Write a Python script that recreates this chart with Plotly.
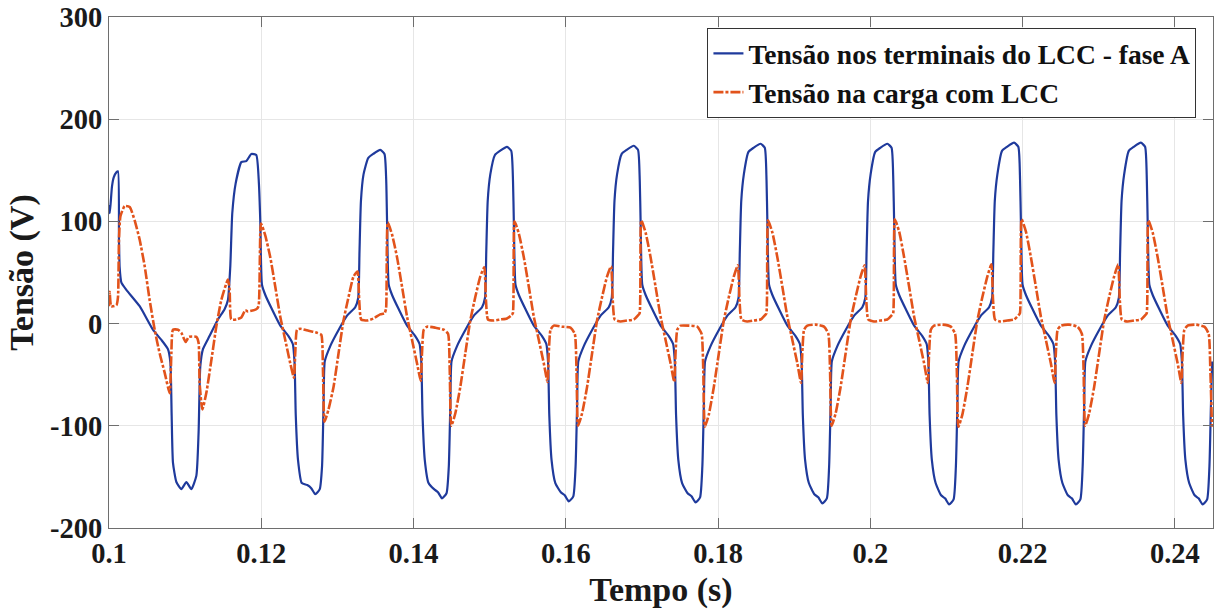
import plotly.graph_objects as go

# ---------------- data ----------------
# Series 1: Tensão nos terminais do LCC - fase A  (time in s, voltage in V)
lcc_time = [
    0.10000, 0.10009, 0.10022, 0.10039, 0.10062, 0.10097, 0.10118, 0.10131, 0.10140, 0.10163,
    0.10228, 0.10403, 0.10577, 0.10688, 0.10774, 0.10806, 0.10823, 0.10840, 0.10885, 0.10950,
    0.11016, 0.11081, 0.11147, 0.11177, 0.11199, 0.11234, 0.11322, 0.11430, 0.11518, 0.11562,
    0.11593, 0.11619, 0.11663, 0.11738, 0.11803, 0.11869, 0.11934, 0.11969,
    # cycle 0
    0.11987, 0.12009, 0.12053, 0.12141, 0.12250, 0.12355, 0.12414, 0.12437, 0.12453, 0.12482,
    0.12532, 0.12604, 0.12656, 0.12709, 0.12768, 0.12798, 0.12818, 0.12834, 0.12906, 0.13017,
    0.13129, 0.13234, 0.13273, 0.13290, 0.13309, 0.13343, 0.13404, 0.13470, 0.13562, 0.13618, 0.13641,
    # cycle 1
    0.13652, 0.13674, 0.13718, 0.13806, 0.13915, 0.14020, 0.14079, 0.14102, 0.14118, 0.14147,
    0.14197, 0.14269, 0.14321, 0.14374, 0.14433, 0.14463, 0.14483, 0.14499, 0.14571, 0.14682,
    0.14794, 0.14899, 0.14938, 0.14955, 0.14974, 0.15008, 0.15069, 0.15135, 0.15227, 0.15283, 0.15306,
    # cycle 2
    0.15317, 0.15339, 0.15383, 0.15471, 0.15580, 0.15685, 0.15744, 0.15767, 0.15783, 0.15812,
    0.15862, 0.15934, 0.15986, 0.16039, 0.16098, 0.16128, 0.16148, 0.16164, 0.16236, 0.16347,
    0.16459, 0.16564, 0.16603, 0.16620, 0.16639, 0.16673, 0.16734, 0.16800, 0.16892, 0.16948, 0.16971,
    # cycle 3
    0.16982, 0.17004, 0.17048, 0.17136, 0.17245, 0.17350, 0.17409, 0.17432, 0.17448, 0.17477,
    0.17527, 0.17599, 0.17651, 0.17704, 0.17763, 0.17793, 0.17813, 0.17829, 0.17901, 0.18012,
    0.18124, 0.18229, 0.18268, 0.18285, 0.18304, 0.18338, 0.18399, 0.18465, 0.18557, 0.18613, 0.18636,
    # cycle 4
    0.18647, 0.18669, 0.18713, 0.18801, 0.18910, 0.19015, 0.19074, 0.19097, 0.19113, 0.19142,
    0.19192, 0.19264, 0.19316, 0.19369, 0.19428, 0.19458, 0.19478, 0.19494, 0.19566, 0.19677,
    0.19789, 0.19894, 0.19933, 0.19950, 0.19969, 0.20003, 0.20064, 0.20130, 0.20222, 0.20278, 0.20301,
    # cycle 5
    0.20312, 0.20334, 0.20378, 0.20466, 0.20575, 0.20680, 0.20739, 0.20762, 0.20778, 0.20807,
    0.20857, 0.20929, 0.20981, 0.21034, 0.21093, 0.21123, 0.21143, 0.21159, 0.21231, 0.21342,
    0.21454, 0.21559, 0.21598, 0.21615, 0.21634, 0.21668, 0.21729, 0.21795, 0.21887, 0.21943, 0.21966,
    # cycle 6
    0.21977, 0.21999, 0.22043, 0.22131, 0.22240, 0.22345, 0.22404, 0.22427, 0.22443, 0.22472,
    0.22522, 0.22594, 0.22646, 0.22699, 0.22758, 0.22788, 0.22808, 0.22824, 0.22896, 0.23007,
    0.23119, 0.23224, 0.23263, 0.23280, 0.23299, 0.23333, 0.23394, 0.23460, 0.23552, 0.23608, 0.23631,
    # cycle 7 (partial)
    0.23642, 0.23664, 0.23708, 0.23796, 0.23905, 0.24010, 0.24069, 0.24092, 0.24108, 0.24137,
    0.24187, 0.24259, 0.24311, 0.24364, 0.24423, 0.24453, 0.24473, 0.24489,
]
lcc_volt = [
    116, 108, 118, 134, 143, 148, 149, 82, 55, 40,
    33, 17, -6, -16, -25, -38, -90, -136, -155, -162,
    -155, -162, -149, -106, -42, -25, -12, 4, 14, 23,
    56, 108, 137, 158, 159, 166, 165, 137,
    # cycle 0
    100, 38, 28, 14, -2, -12, -20, -38, -90, -133,
    -156, -158, -161, -167, -162, -140, -80, -37, -22, -6,
    8, 16, 25, 70, 120, 146, 162, 166, 170, 166, 140,
    # cycle 1
    100, 38, 28, 14, -2, -12, -20, -38, -90, -133,
    -156, -162, -165, -171, -166, -140, -80, -37, -22, -6,
    8, 16, 25, 70, 120, 146, 165, 169, 173, 169, 140,
    # cycle 2
    100, 38, 28, 14, -2, -12, -20, -38, -90, -133,
    -156, -165, -168, -174, -169, -140, -80, -37, -22, -6,
    8, 16, 25, 70, 120, 146, 166, 170, 174, 170, 140,
    # cycle 3
    100, 38, 28, 14, -2, -12, -20, -38, -90, -133,
    -156, -166, -169, -175, -170, -140, -80, -37, -22, -6,
    8, 16, 25, 70, 120, 146, 168, 172, 176, 172, 140,
    # cycle 4
    100, 38, 28, 14, -2, -12, -20, -38, -90, -133,
    -156, -167, -170, -176, -171, -140, -80, -37, -22, -6,
    8, 16, 25, 70, 120, 146, 168, 172, 176, 172, 140,
    # cycle 5
    100, 38, 28, 14, -2, -12, -20, -38, -90, -133,
    -156, -168, -171, -177, -172, -140, -80, -37, -22, -6,
    8, 16, 25, 70, 120, 146, 169, 173, 177, 173, 140,
    # cycle 6
    100, 38, 28, 14, -2, -12, -20, -38, -90, -133,
    -156, -168, -171, -177, -172, -140, -80, -37, -22, -6,
    8, 16, 25, 70, 120, 146, 169, 173, 177, 173, 140,
    # cycle 7 (partial)
    100, 38, 28, 14, -2, -12, -20, -38, -90, -133,
    -156, -168, -171, -177, -172, -140, -80, -37,
]

# Series 2: Tensão na carga com LCC
load_time = [
    0.10000, 0.10009, 0.10029, 0.10097, 0.10118, 0.10131, 0.10150, 0.10206, 0.10272, 0.10337,
    0.10403, 0.10469, 0.10534, 0.10600, 0.10665, 0.10731, 0.10797, 0.10819, 0.10840, 0.10906,
    0.10950, 0.11007, 0.11050, 0.11147, 0.11177, 0.11190, 0.11226, 0.11278, 0.11344, 0.11409,
    0.11475, 0.11562, 0.11584, 0.11606, 0.11672, 0.11738, 0.11790, 0.11824, 0.11934, 0.11964,
    # cycle 0
    0.11996, 0.12053, 0.12118, 0.12184, 0.12249, 0.12315, 0.12381, 0.12429, 0.12446, 0.12469,
    0.12512, 0.12621, 0.12731, 0.12788, 0.12810, 0.12831, 0.12883, 0.12949, 0.13015, 0.13080,
    0.13146, 0.13211, 0.13264, 0.13286, 0.13312, 0.13387, 0.13474, 0.13562, 0.13618, 0.13639,
    # cycle 1
    0.13661, 0.13718, 0.13783, 0.13849, 0.13914, 0.13980, 0.14046, 0.14094, 0.14111, 0.14134,
    0.14177, 0.14286, 0.14396, 0.14453, 0.14475, 0.14496, 0.14548, 0.14614, 0.14680, 0.14745,
    0.14811, 0.14876, 0.14929, 0.14951, 0.14977, 0.15052, 0.15139, 0.15227, 0.15283, 0.15304,
    # cycle 2
    0.15326, 0.15383, 0.15448, 0.15514, 0.15579, 0.15645, 0.15711, 0.15759, 0.15776, 0.15799,
    0.15842, 0.15951, 0.16061, 0.16118, 0.16140, 0.16161, 0.16213, 0.16279, 0.16345, 0.16410,
    0.16476, 0.16541, 0.16594, 0.16616, 0.16642, 0.16717, 0.16804, 0.16892, 0.16948, 0.16969,
    # cycle 3
    0.16991, 0.17048, 0.17113, 0.17179, 0.17244, 0.17310, 0.17376, 0.17424, 0.17441, 0.17464,
    0.17507, 0.17616, 0.17726, 0.17783, 0.17805, 0.17826, 0.17878, 0.17944, 0.18010, 0.18075,
    0.18141, 0.18206, 0.18259, 0.18281, 0.18307, 0.18382, 0.18469, 0.18557, 0.18613, 0.18634,
    # cycle 4
    0.18656, 0.18713, 0.18778, 0.18844, 0.18909, 0.18975, 0.19041, 0.19089, 0.19106, 0.19129,
    0.19172, 0.19281, 0.19391, 0.19448, 0.19470, 0.19491, 0.19543, 0.19609, 0.19675, 0.19740,
    0.19806, 0.19871, 0.19924, 0.19946, 0.19972, 0.20047, 0.20134, 0.20222, 0.20278, 0.20299,
    # cycle 5
    0.20321, 0.20378, 0.20443, 0.20509, 0.20574, 0.20640, 0.20706, 0.20754, 0.20771, 0.20794,
    0.20837, 0.20946, 0.21056, 0.21113, 0.21135, 0.21156, 0.21208, 0.21274, 0.21340, 0.21405,
    0.21471, 0.21536, 0.21589, 0.21611, 0.21637, 0.21712, 0.21799, 0.21887, 0.21943, 0.21964,
    # cycle 6
    0.21986, 0.22043, 0.22108, 0.22174, 0.22239, 0.22305, 0.22371, 0.22419, 0.22436, 0.22459,
    0.22502, 0.22611, 0.22721, 0.22778, 0.22800, 0.22821, 0.22873, 0.22939, 0.23005, 0.23070,
    0.23136, 0.23201, 0.23254, 0.23276, 0.23302, 0.23377, 0.23464, 0.23552, 0.23608, 0.23629,
    # cycle 7 (partial)
    0.23651, 0.23708, 0.23773, 0.23839, 0.23904, 0.23970, 0.24036, 0.24084, 0.24101, 0.24124,
    0.24167, 0.24276, 0.24386, 0.24443, 0.24465, 0.24486,
]
load_volt = [
    17, 31, 17, 18, 26, 82, 105, 115, 114, 101,
    82, 56, 23, -6, -29, -48, -68, -29, -6, -6,
    -9, -18, -13, -13, -19, -58, -84, -68, -36, -3,
    23, 43, 33, 4, 4, 6, 13, 12, 14, 17,
    # cycle 0
    98, 86, 65, 36, 7, -16, -39, -53, -29, -6,
    -5, -7, -9, -11, -45, -96, -84, -62, -29, 3,
    26, 46, 51, 23, 4, 3, 5, 9, 10, 15,
    # cycle 1
    99, 87, 65, 36, 7, -16, -39, -56, -29, -6,
    -3, -4, -6, -10, -45, -100, -88, -62, -29, 3,
    26, 46, 55, 23, 4, 3, 4, 5, 8, 10,
    # cycle 2
    100, 88, 65, 36, 7, -16, -39, -57, -29, -6,
    -2, -3, -4, -10, -45, -100, -88, -62, -29, 3,
    26, 46, 56, 23, 4, 2, 3, 4, 8, 10,
    # cycle 3
    101, 89, 65, 36, 7, -16, -39, -57, -29, -6,
    -2, -2, -3, -10, -45, -101, -89, -62, -29, 3,
    26, 46, 57, 23, 4, 2, 3, 4, 8, 10,
    # cycle 4
    101, 89, 65, 36, 7, -16, -39, -58, -29, -6,
    -2, -1, -3, -10, -45, -100, -88, -62, -29, 3,
    26, 46, 57, 23, 4, 2, 3, 4, 8, 10,
    # cycle 5
    102, 90, 65, 36, 7, -16, -39, -58, -29, -6,
    -2, -1, -3, -10, -45, -101, -89, -62, -29, 3,
    26, 46, 58, 23, 4, 2, 3, 4, 8, 10,
    # cycle 6
    102, 90, 65, 36, 7, -16, -39, -58, -29, -6,
    -2, -1, -3, -10, -45, -100, -88, -62, -29, 3,
    26, 46, 58, 23, 4, 2, 3, 4, 8, 10,
    # cycle 7 (partial)
    101, 89, 65, 36, 7, -16, -39, -58, -29, -6,
    -2, -1, -3, -10, -45, -101,
]

x_ticks = [0.10, 0.12, 0.14, 0.16, 0.18, 0.20, 0.22, 0.24]
x_tick_text = ["0.1", "0.12", "0.14", "0.16", "0.18", "0.2", "0.22", "0.24"]
y_ticks = [-200, -100, 0, 100, 200, 300]
y_tick_text = ["-200", "-100", "0", "100", "200", "300"]

series_names = ["Tensão nos terminais do LCC - fase A", "Tensão na carga com LCC"]

# ---------------- figure ----------------
FONT = "Liberation Serif"
TXT = "#1a1a1a"
fig = go.Figure()
fig.add_trace(go.Scatter(
    x=lcc_time, y=lcc_volt, mode="lines", name=series_names[0],
    line=dict(color="#1f3a9c", width=2.2, shape="spline", smoothing=0.5),
))
fig.add_trace(go.Scatter(
    x=load_time, y=load_volt, mode="lines", name=series_names[1],
    line=dict(color="#e2531b", width=2.6, dash="10px,2px,3px,2px", shape="spline", smoothing=0.5),
))

axis_common = dict(
    showgrid=True, gridcolor="#e6e6e6", gridwidth=1,
    showline=True, linecolor="#6e6e6e", linewidth=1, mirror="allticks",
    ticks="inside", ticklen=10, tickcolor="#6e6e6e", zeroline=False,
    tickfont=dict(family=FONT, size=28.5, color=TXT, weight="bold"),
)
fig.update_xaxes(
    range=[0.1, 0.245], tickvals=x_ticks, ticktext=x_tick_text,
    title=dict(text="Tempo (s)", font=dict(family=FONT, size=34, color=TXT, weight="bold"), standoff=8),
    **axis_common,
)
fig.update_yaxes(
    range=[-200, 300], tickvals=y_ticks, ticktext=y_tick_text,
    title=dict(text="Tensão (V)", font=dict(family=FONT, size=34, color=TXT, weight="bold"), standoff=6),
    **axis_common,
)
fig.update_layout(
    width=1214, height=610,
    margin=dict(l=109, r=1, t=17, b=82),
    paper_bgcolor="white", plot_bgcolor="white",
    showlegend=True,
    legend=dict(
        x=0.985, y=0.9785, xanchor="right", yanchor="top",
        bgcolor="white", bordercolor="#333333", borderwidth=1,
        font=dict(family=FONT, size=27.5, color="#111111", weight="bold"),
        tracegroupgap=0, itemwidth=30,
    ),
)

fig.write_html("out.html", config={"displayModeBar": False},
               post_script="document.body.style.margin='0';")
